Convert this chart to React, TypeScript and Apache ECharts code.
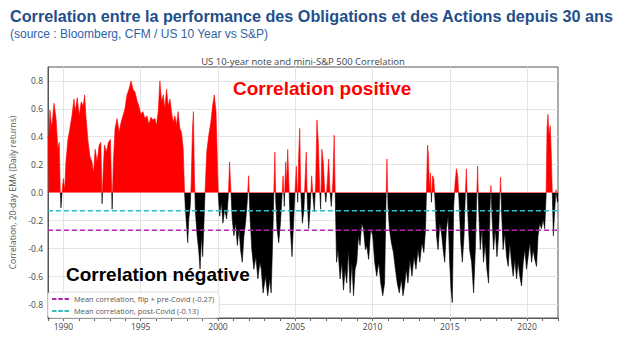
import { useEffect, useRef } from 'react';
import * as echarts from 'echarts';

// Decimal-year dates and the 20-day EMA correlation
const years = [
  1989.00, 1989.04, 1989.13, 1989.24, 1989.39, 1989.52, 1989.64, 1989.73, 1989.79, 1989.84,
  1989.90, 1989.99, 1990.08, 1990.16, 1990.29, 1990.42, 1990.55, 1990.68, 1990.76, 1990.89,
  1991.02, 1991.15, 1991.28, 1991.37, 1991.45, 1991.58, 1991.71, 1991.84, 1991.95, 1992.05,
  1992.18, 1992.31, 1992.42, 1992.50, 1992.56, 1992.65, 1992.78, 1992.91, 1993.04, 1993.15,
  1993.23, 1993.34, 1993.47, 1993.60, 1993.72, 1993.85, 1993.98, 1994.11, 1994.24, 1994.37,
  1994.50, 1994.63, 1994.76, 1994.88, 1995.01, 1995.14, 1995.27, 1995.40, 1995.53, 1995.66,
  1995.79, 1995.92, 1996.02, 1996.13, 1996.24, 1996.35, 1996.46, 1996.56, 1996.67, 1996.78,
  1996.89, 1996.99, 1997.10, 1997.21, 1997.31, 1997.42, 1997.53, 1997.64, 1997.75, 1997.83,
  1997.89, 1997.98, 1998.04, 1998.11, 1998.20, 1998.26, 1998.35, 1998.41, 1998.47, 1998.54,
  1998.65, 1998.75, 1998.84, 1998.93, 1999.01, 1999.10, 1999.16, 1999.27, 1999.40, 1999.53,
  1999.65, 1999.76, 1999.87, 1999.96, 2000.02, 2000.11, 2000.21, 2000.32, 2000.43, 2000.56,
  2000.67, 2000.75, 2000.84, 2000.92, 2001.03, 2001.14, 2001.25, 2001.36, 2001.46, 2001.57,
  2001.68, 2001.78, 2001.89, 2001.98, 2002.07, 2002.19, 2002.32, 2002.45, 2002.58, 2002.71,
  2002.80, 2002.92, 2003.07, 2003.22, 2003.35, 2003.44, 2003.52, 2003.61, 2003.68, 2003.74,
  2003.82, 2003.93, 2004.04, 2004.12, 2004.21, 2004.29, 2004.38, 2004.45, 2004.51, 2004.60,
  2004.68, 2004.79, 2004.90, 2004.98, 2005.07, 2005.16, 2005.22, 2005.29, 2005.35, 2005.46,
  2005.56, 2005.65, 2005.71, 2005.78, 2005.87, 2005.97, 2006.06, 2006.14, 2006.23, 2006.32,
  2006.40, 2006.49, 2006.58, 2006.64, 2006.72, 2006.81, 2006.90, 2006.98, 2007.07, 2007.16,
  2007.24, 2007.33, 2007.43, 2007.52, 2007.58, 2007.67, 2007.77, 2007.90, 2008.01, 2008.12,
  2008.22, 2008.33, 2008.44, 2008.55, 2008.66, 2008.77, 2008.87, 2008.98, 2009.09, 2009.19,
  2009.30, 2009.41, 2009.54, 2009.62, 2009.75, 2009.88, 2010.01, 2010.14, 2010.27, 2010.40,
  2010.53, 2010.66, 2010.78, 2010.87, 2010.93, 2011.00, 2011.09, 2011.22, 2011.35, 2011.48,
  2011.60, 2011.73, 2011.86, 2011.97, 2012.07, 2012.18, 2012.29, 2012.42, 2012.55, 2012.68,
  2012.81, 2012.94, 2013.06, 2013.19, 2013.32, 2013.43, 2013.49, 2013.56, 2013.62, 2013.68,
  2013.75, 2013.81, 2013.88, 2013.96, 2014.05, 2014.14, 2014.24, 2014.35, 2014.46, 2014.57,
  2014.67, 2014.78, 2014.89, 2014.99, 2015.08, 2015.16, 2015.25, 2015.34, 2015.43, 2015.51,
  2015.60, 2015.71, 2015.81, 2015.92, 2016.00, 2016.07, 2016.15, 2016.28, 2016.41, 2016.54,
  2016.65, 2016.73, 2016.80, 2016.86, 2016.97, 2017.08, 2017.18, 2017.29, 2017.40, 2017.51,
  2017.60, 2017.66, 2017.73, 2017.83, 2017.94, 2018.05, 2018.15, 2018.22, 2018.28, 2018.35,
  2018.45, 2018.56, 2018.67, 2018.78, 2018.88, 2018.99, 2019.10, 2019.21, 2019.32, 2019.42,
  2019.53, 2019.64, 2019.75, 2019.86, 2019.96, 2020.07, 2020.18, 2020.29, 2020.39, 2020.50,
  2020.61, 2020.71, 2020.82, 2020.93, 2021.03, 2021.14, 2021.23, 2021.29, 2021.35, 2021.42,
  2021.50, 2021.57, 2021.63, 2021.70, 2021.79, 2021.87, 2021.96, 2022.00,
];

const corr = [
  0.40, 0.38, 0.59, 0.46, 0.64, 0.53, 0.31, 0.36, 0.02, -0.11,
  -0.01, 0.10, 0.02, 0.22, 0.38, 0.46, 0.55, 0.67, 0.58, 0.68,
  0.55, 0.65, 0.62, 0.70, 0.55, 0.38, 0.26, 0.22, 0.14, 0.31,
  0.22, 0.34, 0.36, -0.08, 0.12, 0.34, 0.29, 0.36, 0.38, -0.12,
  0.22, 0.46, 0.53, 0.43, 0.50, 0.55, 0.60, 0.70, 0.74, 0.80,
  0.74, 0.72, 0.66, 0.62, 0.56, 0.58, 0.53, 0.55, 0.49, 0.54,
  0.52, 0.53, 0.48, 0.58, 0.80, 0.65, 0.70, 0.60, 0.74, 0.62,
  0.67, 0.58, 0.50, 0.55, 0.48, 0.58, 0.46, 0.43, 0.31, 0.02,
  -0.12, -0.26, -0.36, -0.19, -0.10, 0.05, 0.46, 0.58, 0.14, -0.14,
  -0.31, -0.41, -0.55, -0.31, -0.46, -0.19, 0.00, 0.29, 0.41, 0.50,
  0.62, 0.70, 0.58, 0.22, -0.02, -0.17, -0.07, -0.22, -0.12, -0.19,
  -0.02, 0.22, 0.00, -0.19, -0.31, -0.22, -0.38, -0.26, -0.41, -0.50,
  -0.31, -0.22, -0.07, 0.12, -0.17, -0.41, -0.55, -0.46, -0.62, -0.50,
  -0.55, -0.72, -0.60, -0.74, -0.62, -0.72, -0.41, -0.02, 0.29, -0.07,
  -0.26, -0.36, -0.22, -0.07, 0.12, -0.10, 0.22, 0.07, 0.31, 0.02,
  -0.26, -0.46, -0.19, 0.00, 0.19, -0.07, 0.26, 0.46, 0.02, -0.22,
  -0.12, 0.14, 0.29, -0.07, -0.26, -0.10, 0.12, -0.02, -0.14, 0.07,
  0.52, 0.36, 0.02, -0.12, 0.31, 0.22, 0.02, -0.07, 0.07, 0.24,
  0.02, -0.10, 0.07, 0.41, 0.02, -0.50, -0.41, -0.62, -0.50, -0.70,
  -0.55, -0.65, -0.41, -0.72, -0.50, -0.74, -0.55, -0.50, -0.31, -0.38,
  -0.22, -0.26, -0.41, -0.38, -0.48, -0.26, -0.31, -0.50, -0.60, -0.50,
  -0.65, -0.74, -0.65, -0.07, 0.24, -0.10, -0.26, -0.36, -0.43, -0.55,
  -0.65, -0.72, -0.62, -0.74, -0.67, -0.55, -0.65, -0.48, -0.60, -0.46,
  -0.55, -0.41, -0.50, -0.36, -0.43, -0.26, 0.02, 0.34, 0.26, 0.02,
  0.14, -0.07, 0.12, 0.10, -0.07, -0.31, -0.41, -0.22, -0.29, -0.41,
  -0.50, -0.26, -0.17, -0.50, -0.70, -0.79, -0.10, 0.07, 0.17, 0.12,
  -0.07, -0.36, -0.50, -0.31, -0.02, 0.17, -0.12, -0.41, -0.50, -0.72,
  -0.41, -0.07, 0.19, -0.10, -0.41, -0.26, -0.50, -0.36, -0.55, -0.65,
  -0.12, 0.05, -0.17, -0.41, -0.26, -0.46, -0.31, -0.07, 0.11, -0.14,
  -0.41, -0.29, -0.46, -0.53, -0.36, -0.50, -0.60, -0.48, -0.62, -0.50,
  -0.60, -0.67, -0.50, -0.41, -0.55, -0.46, -0.36, -0.50, -0.41, -0.48,
  -0.53, -0.31, -0.22, -0.26, -0.19, -0.26, -0.02, 0.46, 0.56, 0.41,
  0.48, 0.26, 0.00, -0.31, -0.12, 0.02, -0.07, -0.05,
];

const meanPre = -0.27;
const meanPost = -0.13;
const xRange = [1989, 2022];
const yRange = [-0.9, 0.9];

const titleText = 'Correlation entre la performance des Obligations et des Actions depuis 30 ans';
const subtitleText = '(source : Bloomberg, CFM / US 10 Year vs S&P)';
const chartTitle = 'US 10-year note and mini-S&P 500 Correlation';
const yAxisName = 'Correlation, 20-day EMA (Daily returns)';
const posLabel = 'Correlation positive';
const negLabel = 'Correlation négative';

export default function App() {
  const ref = useRef<HTMLDivElement>(null);
  useEffect(() => {
    document.body.style.margin = '0';
    const chart = echarts.init(ref.current!, null, { renderer: 'svg' });
    const data = years.map((y, i) => [y, corr[i]]);
    const nameFont = 'Open Sans';
    const transparent = 'rgba(0,0,0,0)';
    const grid = '#e4e4e4';
    const preName = `Mean correlation, flip + pre-Covid (${meanPre})`;
    const postName = `Mean correlation, post-Covid (${meanPost})`;
    const dashIcon = 'path://M0,0h5v2h-5z M7,0h5v2h-5z M14,0h5v2h-5z';
    const preColor = '#ab2aae';
    const postColor = '#2ec0bc';
    chart.setOption({
      animation: false,
      backgroundColor: '#ffffff',
      grid: {
        left: 46, right: 86, top: 67, bottom: 22,
        show: true, borderColor: '#555', borderWidth: 1, containLabel: false,
      },
      xAxis: {
        type: 'value', min: xRange[0], max: xRange[1], interval: 1,
        axisLine: { show: true, onZero: false, lineStyle: { color: '#555' } },
        axisTick: { show: true, length: 3, lineStyle: { color: '#666' } },
        axisLabel: {
          formatter: (v: number) => (Math.round(v) % 5 === 0 ? String(Math.round(v)) : ''),
          fontSize: 8.5, color: '#444', fontFamily: nameFont, margin: 4,
        },
        splitLine: {
          show: true,
          lineStyle: { color: [transparent, grid, transparent, transparent, transparent], width: 1 },
        },
      },
      yAxis: {
        type: 'value', min: yRange[0], max: yRange[1], interval: 0.1,
        name: yAxisName, nameLocation: 'middle', nameGap: 31, nameRotate: 90,
        nameTextStyle: { fontSize: 8.5, color: '#555', fontFamily: nameFont },
        axisLine: { show: true, lineStyle: { color: '#555' } },
        axisTick: { show: false },
        axisLabel: {
          formatter: (v: number) => {
            const r = Math.round(v * 10);
            return r % 2 === 0 && Math.abs(r) < 9 ? (r / 10).toFixed(1) : '';
          },
          fontSize: 8.5, color: '#444', fontFamily: nameFont, margin: 5,
        },
        splitLine: { show: true, lineStyle: { color: [transparent, grid], width: 1 } },
      },
      visualMap: {
        show: false, type: 'piecewise', seriesIndex: 0, dimension: 1,
        pieces: [
          { gt: 0, lte: 1, color: '#ff0000' },
          { gt: -1, lte: 0, color: '#000000' },
        ],
      },
      legend: {
        data: [
          { name: preName, icon: dashIcon, itemStyle: { color: preColor } },
          { name: postName, icon: dashIcon, itemStyle: { color: postColor } },
        ],
        orient: 'vertical', left: 48, top: 292,
        padding: [3, 5, 3, 4], itemGap: 4, itemWidth: 17, itemHeight: 7,
        backgroundColor: '#ffffff', borderColor: '#dddddd', borderWidth: 1, borderRadius: 3,
        textStyle: { fontSize: 7.5, color: '#555', fontFamily: nameFont },
      },
      series: [
        {
          type: 'line', data, symbol: 'none', silent: true,
          lineStyle: { width: 0.6 }, areaStyle: { opacity: 1 }, z: 2,
        },
        {
          name: preName, type: 'line', symbol: 'none', silent: true, z: 3,
          data: [[xRange[0], meanPre], [xRange[1], meanPre]],
          lineStyle: { type: [5, 3], color: preColor, width: 1.5 },
          itemStyle: { color: preColor },
        },
        {
          name: postName, type: 'line', symbol: 'none', silent: true, z: 3,
          data: [[xRange[0], meanPost], [xRange[1], meanPost]],
          lineStyle: { type: [5, 3], color: postColor, width: 1.5 },
          itemStyle: { color: postColor },
        },
      ],
      graphic: [
        {
          type: 'text', x: 10, y: 15.5, z: 100,
          style: {
            text: titleText, fontSize: 16.2, fontWeight: 'bold', fontFamily: 'Liberation Sans',
            fill: '#1f4f8c', align: 'left', verticalAlign: 'middle',
          },
        },
        {
          type: 'text', x: 10, y: 34, z: 100,
          style: {
            text: subtitleText, fontSize: 12, fontFamily: 'Liberation Sans',
            fill: '#2e62a6', align: 'left', verticalAlign: 'middle',
          },
        },
        {
          type: 'text', x: 303, y: 61, z: 100,
          style: {
            text: chartTitle, fontSize: 9.5, fontFamily: nameFont,
            fill: '#444', align: 'center', verticalAlign: 'middle',
          },
        },
        {
          type: 'text', x: 233, y: 88, z: 100,
          style: {
            text: posLabel, fontSize: 19, fontWeight: 'bold', fontFamily: 'Liberation Sans',
            fill: '#ff0000', align: 'left', verticalAlign: 'middle',
          },
        },
        {
          type: 'text', x: 66, y: 274, z: 100,
          style: {
            text: negLabel, fontSize: 19, fontWeight: 'bold', fontFamily: 'Liberation Sans',
            fill: '#000000', align: 'left', verticalAlign: 'middle',
          },
        },
      ],
    });
    return () => chart.dispose();
  }, []);
  return <div ref={ref} style={{ width: 644, height: 340, position: 'fixed', left: 0, top: 0 }} />;
}
